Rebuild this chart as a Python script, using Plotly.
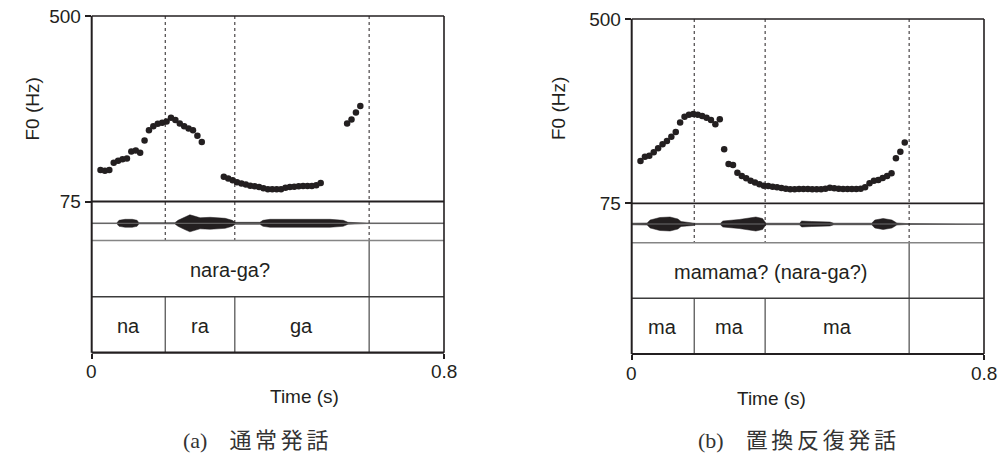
import plotly.graph_objects as go
import math

# ---------------- data ----------------
# (a) normal utterance  "nara-ga?"
a_time = [0.02, 0.03, 0.04, 0.05, 0.06, 0.07, 0.08, 0.09, 0.10, 0.11, 0.12, 0.13,
          0.14, 0.15, 0.16, 0.17, 0.18, 0.19, 0.20, 0.21, 0.22, 0.23, 0.24, 0.25,
          0.30, 0.31, 0.32, 0.33, 0.34, 0.35, 0.36, 0.37, 0.38, 0.39, 0.40, 0.41,
          0.42, 0.43, 0.44, 0.45, 0.46, 0.47, 0.48, 0.49, 0.50, 0.51, 0.52,
          0.58, 0.59, 0.60, 0.61]
a_f0 = [103.4, 102.7, 103.4, 111.5, 113.8, 115.5, 116.3, 125.0, 126.3, 123.6, 140.1, 155.4,
        162.0, 166.1, 167.8, 170.1, 176.7, 172.4, 166.6, 162.0, 158.2, 155.4, 147.0, 137.8,
        96.5, 94.9, 93.2, 91.3, 90.1, 89.2, 88.2, 87.6, 86.9, 85.8, 85.1, 85.1,
        85.1, 85.1, 86.4, 86.9, 87.3, 87.6, 87.9, 87.9, 87.9, 88.5, 90.7,
        166.6, 173.6, 186.2, 199.4]
a_env_time = [0.0, 0.057, 0.062, 0.076, 0.092, 0.103, 0.107, 0.189, 0.196, 0.210, 0.223,
              0.235, 0.246, 0.269, 0.303, 0.319, 0.326, 0.382, 0.389, 0.405, 0.473,
              0.541, 0.571, 0.582, 0.609, 0.625, 0.8]
a_env_amp = [0.3, 0.3, 3, 4, 4, 3, 0.6, 0.6, 3, 6, 8.5,
             7, 5.5, 6, 5, 3, 1, 1, 3, 4, 4,
             4, 3, 1, 0.5, 0.3, 0.3]
a_bounds = [0.167, 0.325, 0.630]
a_tier1 = "nara-ga?"
a_tier2 = ["na", "ra", "ga"]
a_caption = "(a)\u2003通\u2006常\u2006発\u2006話"

# (b) substituted repetition  "mamama? (nara-ga?)"
b_time = [0.02, 0.03, 0.04, 0.05, 0.06, 0.07, 0.08, 0.09, 0.10, 0.11, 0.12, 0.13,
          0.14, 0.15, 0.16, 0.17, 0.18, 0.19, 0.20, 0.21, 0.22, 0.23, 0.24, 0.25,
          0.26, 0.27, 0.28, 0.29, 0.30, 0.31, 0.32, 0.33, 0.34, 0.35, 0.36, 0.37,
          0.38, 0.39, 0.40, 0.41, 0.42, 0.43, 0.44, 0.45, 0.46, 0.47, 0.48, 0.49,
          0.50, 0.51, 0.52, 0.53, 0.54, 0.55, 0.56, 0.57, 0.58, 0.59, 0.60, 0.61, 0.62]
b_f0 = [115.8, 121.0, 122.3, 126.7, 132.1, 137.7, 142.5, 148.9, 156.4, 172.3, 183.0, 186.8,
        188.1, 186.8, 184.3, 181.0, 176.8, 169.2, 178.1, 130.8, 112.4, 111.2, 102.7, 99.4,
        97.0, 94.7, 92.8, 91.2, 89.9, 89.6, 88.9, 88.4, 87.8, 87.1, 86.7, 86.7,
        86.9, 86.9, 86.9, 86.7, 86.7, 86.7, 87.1, 88.1, 87.5, 87.1, 86.9, 86.9,
        86.9, 86.9, 87.1, 88.4, 92.2, 94.7, 95.3, 97.4, 99.4, 102.2, 119.1, 127.6, 140.1]
b_env_time = [0.0, 0.035, 0.042, 0.064, 0.087, 0.105, 0.112, 0.139, 0.146, 0.201, 0.207,
              0.244, 0.282, 0.297, 0.305, 0.381, 0.386, 0.409, 0.450, 0.459, 0.545,
              0.552, 0.571, 0.591, 0.602, 0.623, 0.8]
b_env_amp = [0.8, 1, 4, 6.5, 7, 5, 2.5, 1.5, 0.6, 0.6, 3,
             4.5, 7, 5.5, 0.8, 0.8, 3, 2.5, 2, 0.8, 0.8,
             4, 5.5, 4, 1, 0.5, 0.3]
b_bounds = [0.142, 0.303, 0.630]
b_tier1 = "mamama? (nara-ga?)"
b_tier2 = ["ma", "ma", "ma"]
b_caption = "(b)\u2003置\u2006換\u2006反\u2006復\u2006発\u2006話"

f0_ticks = [75, 500]
time_ticks = [0, 0.8]
time_ticktext = ["0", "0.8"]
t_max = 0.8

# ---------------- layout helpers ----------------
W, H = 1005, 456
DARK = "#231f20"
SANS = "Liberation Sans, Arial, Helvetica, sans-serif"
CAP_FONT = "Liberation Serif, Noto Sans CJK JP, serif"


def py(p):
    return 1 - p / H


def px(p):
    return p / W


panels = [
    dict(time=a_time, f0=a_f0, env_t=a_env_time, env_a=a_env_amp, bounds=a_bounds,
         tier1=a_tier1, tier2=a_tier2, caption=a_caption,
         x0=91.7, x1=444.0, top=16.0, f0bot=201.5, base=223.3, wavebot=240.5,
         t1bot=296.7, axis=352.7, cap_x=181, ylab_x=19),
    dict(time=b_time, f0=b_f0, env_t=b_env_time, env_a=b_env_amp, bounds=b_bounds,
         tier1=b_tier1, tier2=b_tier2, caption=b_caption,
         x0=631.7, x1=984.0, top=19.0, f0bot=203.3, base=224.0, wavebot=242.7,
         t1bot=298.3, axis=354.0, cap_x=696, ylab_x=558),
]

fig = go.Figure()
shapes = []
annotations = []
layout_axes = {}

for i, P in enumerate(panels):
    n1 = 2 * i + 1      # F0 axes
    n2 = 2 * i + 2      # waveform / time axes
    xa1 = "x" if n1 == 1 else f"x{n1}"
    ya1 = "y" if n1 == 1 else f"y{n1}"
    xa2 = f"x{n2}"
    ya2 = f"y{n2}"
    dom = [px(P["x0"]), px(P["x1"])]

    layout_axes["xaxis" if n1 == 1 else f"xaxis{n1}"] = dict(
        domain=dom, range=[0, t_max], visible=False, anchor=ya1, automargin=False)
    layout_axes["yaxis" if n1 == 1 else f"yaxis{n1}"] = dict(
        domain=[py(P["f0bot"]), py(P["top"])], anchor=xa1, type="log",
        range=[math.log10(75), math.log10(500)],
        tickvals=f0_ticks, ticktext=[str(v) for v in f0_ticks],
        ticks="outside", ticklen=6, tickwidth=1.5, tickcolor=DARK,
        tickfont=dict(family=SANS, size=19, color=DARK), automargin=False,
        showline=False, showgrid=False, zeroline=False)
    layout_axes[f"xaxis{n2}"] = dict(
        domain=dom, range=[0, t_max], anchor="free", position=py(P["axis"]),
        tickvals=time_ticks, showticklabels=False,
        ticks="outside", ticklen=5, tickwidth=1.5, tickcolor=DARK,
        automargin=False, showline=False, showgrid=False, zeroline=False)
    lo = -(P["wavebot"] - P["base"])
    hi = P["base"] - P["f0bot"]
    layout_axes[f"yaxis{n2}"] = dict(
        domain=[py(P["wavebot"]), py(P["f0bot"])], anchor=xa2,
        range=[lo, hi], visible=False, automargin=False)

    # waveform baseline
    shapes.append(dict(type="line", xref=xa2, yref=ya2, x0=0, x1=t_max, y0=0, y1=0,
                       line=dict(color="#6d6d6d", width=1)))
    # waveform envelope
    env_x = list(P["env_t"]) + list(reversed(P["env_t"]))
    env_y = list(P["env_a"]) + [-a for a in reversed(P["env_a"])]
    fig.add_trace(go.Scatter(x=env_x, y=env_y, xaxis=xa2, yaxis=ya2, mode="lines",
                             fill="toself", fillcolor=DARK,
                             line=dict(color=DARK, width=0.5), hoverinfo="skip",
                             showlegend=False))
    # F0 dots
    fig.add_trace(go.Scatter(x=P["time"], y=P["f0"], xaxis=xa1, yaxis=ya1, mode="markers",
                             marker=dict(size=6.5, color=DARK), showlegend=False,
                             cliponaxis=False))

    # dotted boundaries through F0 + waveform
    for b in P["bounds"]:
        shapes.append(dict(type="line", xref=xa1, yref="paper", x0=b, x1=b,
                           y0=py(P["top"]), y1=py(P["wavebot"]),
                           line=dict(color=DARK, width=1, dash="dot")))
    # tier boundaries
    last = P["bounds"][-1]
    shapes.append(dict(type="line", xref=xa1, yref="paper", x0=last, x1=last,
                       y0=py(P["wavebot"]), y1=py(P["axis"]),
                       line=dict(color="#4a4a4a", width=1.2)))
    for b in P["bounds"][:-1]:
        shapes.append(dict(type="line", xref=xa1, yref="paper", x0=b, x1=b,
                           y0=py(P["t1bot"]), y1=py(P["axis"]),
                           line=dict(color="#4a4a4a", width=1.2)))
    # horizontal lines
    hlines = [(P["top"], DARK, 1.3), (P["f0bot"], DARK, 1.8), (P["wavebot"], "#858585", 1.6),
              (P["t1bot"], "#3c3c3c", 1.6), (P["axis"], DARK, 2.2)]
    for yy, col, w in hlines:
        shapes.append(dict(type="line", xref="paper", yref="paper",
                           x0=px(P["x0"]), x1=px(P["x1"]), y0=py(yy), y1=py(yy),
                           line=dict(color=col, width=w)))
    # left / right borders
    for xx, w in [(P["x0"], 2.0), (P["x1"], 1.6)]:
        shapes.append(dict(type="line", xref="paper", yref="paper",
                           x0=px(xx), x1=px(xx), y0=py(P["top"]), y1=py(P["axis"]),
                           line=dict(color=DARK, width=w)))

    # tier texts
    annotations.append(dict(xref=xa1, yref="paper", x=last / 2,
                            y=py((P["wavebot"] + P["t1bot"]) / 2 + 1), yanchor="middle",
                            text=P["tier1"], showarrow=False,
                            font=dict(family=SANS, size=20, color=DARK)))
    edges = [0] + P["bounds"]
    for k, lab in enumerate(P["tier2"]):
        annotations.append(dict(xref=xa1, yref="paper", x=(edges[k] + edges[k + 1]) / 2,
                                y=py((P["t1bot"] + P["axis"]) / 2 + 1), yanchor="middle",
                                text=lab, showarrow=False,
                                font=dict(family=SANS, size=20, color=DARK)))
    # time tick labels (at the time axis' tick values)
    for tv, tt in zip(time_ticks, time_ticktext):
        annotations.append(dict(xref=xa2, yref="paper", x=tv, y=py(P["axis"] + 19),
                                yanchor="middle", text=tt, showarrow=False,
                                font=dict(family=SANS, size=19, color=DARK)))
    # axis titles
    annotations.append(dict(xref="paper", yref="paper", x=px((P["x0"] + P["x1"]) / 2),
                            y=py(P["axis"] + 44), yanchor="middle", text="Time (s)",
                            showarrow=False,
                            font=dict(family=SANS, size=19, color=DARK)))
    annotations.append(dict(xref="paper", yref="paper", x=px(P["ylab_x"]), y=py(109),
                            yanchor="middle", text="F0 (Hz)", textangle=-90, showarrow=False,
                            font=dict(family=SANS, size=19, color=DARK)))
    # caption
    annotations.append(dict(xref="paper", yref="paper", x=px(P["cap_x"]), y=py(440),
                            xanchor="left", yanchor="middle", text=P["caption"],
                            showarrow=False,
                            font=dict(family=CAP_FONT, size=22, color="#333333")))

fig.update_layout(
    template="none",
    width=W, height=H, autosize=False,
    margin=dict(l=0, r=0, t=0, b=0, pad=0),
    paper_bgcolor="white", plot_bgcolor="white",
    shapes=shapes, annotations=annotations, showlegend=False,
    **layout_axes,
)

fig.write_html("out.html", config={"displayModeBar": False},
               post_script="document.body.style.margin='0';")
